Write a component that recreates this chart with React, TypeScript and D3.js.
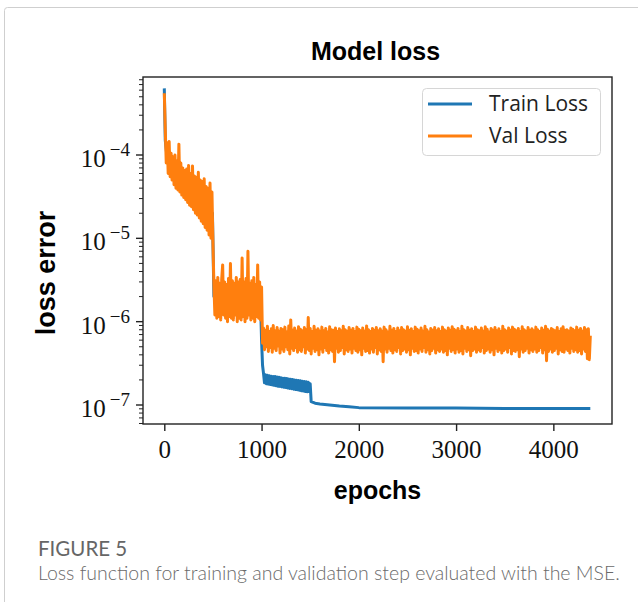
import React, { useEffect, useRef } from 'react';
import * as d3 from 'd3';

// validation loss, one value every 10 epochs (0 .. 4380)
const valStep = 10;
const valLoss = [
  // 0 .. 500
  5.5e-4, 2.0e-4, 8.0e-5, 1.4e-4, 6.0e-5, 1.45e-4, 5.5e-5, 1.05e-4, 5.0e-5, 9.5e-5,
  4.4e-5, 1.0e-4, 4.0e-5, 8.5e-5, 3.8e-5, 1.35e-4, 3.6e-5, 8.0e-5, 3.3e-5, 7.0e-5,
  3.1e-5, 6.5e-5, 2.9e-5, 6.8e-5, 2.7e-5, 7.5e-5, 2.5e-5, 6.0e-5, 2.4e-5, 7.4e-5,
  2.2e-5, 5.6e-5, 2.0e-5, 5.4e-5, 1.9e-5, 6.2e-5, 1.75e-5, 5.0e-5, 1.6e-5, 4.8e-5,
  1.5e-5, 5.2e-5, 1.35e-5, 4.2e-5, 1.25e-5, 4.0e-5, 1.1e-5, 4.6e-5, 1.0e-5, 3.6e-5,
  9.0e-6,
  // 510 .. 1000
  2.8e-6, 1.2e-6, 3.1e-6, 1.1e-6, 3.4e-6, 1.15e-6, 2.9e-6, 1.05e-6, 3.2e-6, 4.8e-6,
  1.2e-6, 3.0e-6, 1.1e-6, 2.8e-6, 1.0e-6, 3.3e-6, 1.15e-6, 5.0e-6, 1.1e-6, 3.1e-6,
  1.05e-6, 2.9e-6, 1.2e-6, 3.4e-6, 1.0e-6, 3.0e-6, 1.1e-6, 3.2e-6, 1.05e-6, 5.8e-6,
  1.15e-6, 3.0e-6, 1.0e-6, 3.3e-6, 1.1e-6, 7.0e-6, 1.2e-6, 2.9e-6, 1.05e-6, 3.1e-6,
  1.1e-6, 3.4e-6, 1.0e-6, 2.8e-6, 1.15e-6, 4.8e-6, 1.1e-6, 3.0e-6, 1.05e-6, 2.6e-6,
  // 1010 .. 4380
  5.5e-7, 8.4e-7, 4.6e-7, 7.9e-7, 5.0e-7, 8.8e-7, 4.4e-7, 7.6e-7, 4.9e-7, 8.2e-7,
  4.3e-7, 9.0e-7, 4.8e-7, 7.8e-7, 4.5e-7, 8.5e-7, 5.1e-7, 7.7e-7, 4.2e-7, 8.3e-7,
  4.7e-7, 8.0e-7, 4.4e-7, 8.6e-7, 5.0e-7, 7.5e-7, 4.6e-7, 8.9e-7, 4.1e-7, 1.05e-6,
  4.8e-7, 7.9e-7, 4.5e-7, 8.4e-7, 4.9e-7, 7.7e-7, 4.3e-7, 8.7e-7, 4.6e-7, 8.1e-7,
  4.4e-7, 7.8e-7, 5.0e-7, 8.5e-7, 4.2e-7, 8.0e-7, 4.7e-7, 1.12e-6, 4.5e-7, 8.3e-7,
  4.1e-7, 7.6e-7, 4.8e-7, 8.8e-7, 4.4e-7, 7.9e-7, 4.6e-7, 8.2e-7, 4.0e-7, 7.7e-7,
  4.7e-7, 8.6e-7, 4.3e-7, 7.8e-7, 4.9e-7, 8.3e-7, 4.5e-7, 7.5e-7, 4.2e-7, 8.7e-7,
  4.6e-7, 8.0e-7, 4.4e-7, 7.9e-7, 3.3e-7, 8.4e-7, 4.8e-7, 7.6e-7, 4.3e-7, 8.2e-7,
  4.5e-7, 7.8e-7, 4.9e-7, 8.8e-7, 4.1e-7, 8.0e-7, 4.6e-7, 7.7e-7, 4.4e-7, 8.5e-7,
  4.7e-7, 7.9e-7, 4.2e-7, 8.3e-7, 4.8e-7, 7.6e-7, 4.5e-7, 8.6e-7, 4.3e-7, 8.1e-7,
  4.6e-7, 7.8e-7, 4.0e-7, 8.4e-7, 4.8e-7, 7.7e-7, 4.4e-7, 8.9e-7, 4.5e-7, 8.0e-7,
  4.2e-7, 7.6e-7, 4.7e-7, 8.3e-7, 4.3e-7, 7.9e-7, 4.9e-7, 8.5e-7, 4.1e-7, 7.8e-7,
  4.6e-7, 8.2e-7, 4.4e-7, 7.7e-7, 3.3e-7, 8.6e-7, 4.7e-7, 8.0e-7, 4.3e-7, 7.5e-7,
  4.8e-7, 8.8e-7, 4.5e-7, 7.9e-7, 4.2e-7, 8.3e-7, 4.6e-7, 7.6e-7, 4.4e-7, 8.4e-7,
  4.9e-7, 7.8e-7, 4.1e-7, 8.5e-7, 4.5e-7, 8.0e-7, 4.7e-7, 7.7e-7, 4.3e-7, 8.7e-7,
  4.6e-7, 7.9e-7, 4.0e-7, 8.2e-7, 4.8e-7, 7.6e-7, 4.4e-7, 8.6e-7, 4.5e-7, 8.1e-7,
  4.2e-7, 7.8e-7, 4.7e-7, 8.4e-7, 4.4e-7, 7.7e-7, 4.9e-7, 8.8e-7, 4.3e-7, 8.0e-7,
  4.6e-7, 7.5e-7, 4.1e-7, 8.3e-7, 4.5e-7, 7.9e-7, 4.8e-7, 8.5e-7, 4.2e-7, 7.8e-7,
  4.6e-7, 8.2e-7, 4.4e-7, 7.6e-7, 4.7e-7, 8.6e-7, 4.3e-7, 8.0e-7, 4.5e-7, 7.7e-7,
  4.0e-7, 8.4e-7, 4.8e-7, 7.9e-7, 4.4e-7, 8.7e-7, 4.6e-7, 8.1e-7, 4.2e-7, 7.8e-7,
  4.7e-7, 8.3e-7, 4.3e-7, 7.6e-7, 4.5e-7, 8.8e-7, 4.1e-7, 8.0e-7, 4.8e-7, 7.7e-7,
  4.4e-7, 8.5e-7, 4.6e-7, 7.9e-7, 3.9e-7, 8.2e-7, 4.5e-7, 7.6e-7, 4.7e-7, 8.6e-7,
  4.3e-7, 8.0e-7, 4.6e-7, 7.8e-7, 4.4e-7, 8.4e-7, 4.9e-7, 7.7e-7, 4.2e-7, 8.7e-7,
  4.5e-7, 8.1e-7, 4.7e-7, 7.5e-7, 4.3e-7, 8.3e-7, 4.6e-7, 7.9e-7, 4.0e-7, 8.5e-7,
  4.8e-7, 7.8e-7, 4.4e-7, 8.2e-7, 4.6e-7, 7.6e-7, 4.2e-7, 8.8e-7, 4.5e-7, 8.0e-7,
  4.7e-7, 7.7e-7, 4.3e-7, 8.4e-7, 4.9e-7, 7.9e-7, 4.1e-7, 8.6e-7, 4.5e-7, 8.1e-7,
  4.4e-7, 7.8e-7, 4.6e-7, 8.3e-7, 3.8e-7, 7.6e-7, 4.7e-7, 8.7e-7, 4.3e-7, 8.0e-7,
  4.5e-7, 7.7e-7, 4.8e-7, 8.5e-7, 4.2e-7, 7.9e-7, 4.6e-7, 8.2e-7, 4.4e-7, 7.8e-7,
  4.7e-7, 8.6e-7, 4.3e-7, 8.0e-7, 4.5e-7, 7.6e-7, 4.9e-7, 8.4e-7, 4.2e-7, 7.9e-7,
  4.6e-7, 8.8e-7, 3.4e-7, 8.1e-7, 4.4e-7, 7.7e-7, 4.7e-7, 8.3e-7, 4.3e-7, 8.0e-7,
  4.5e-7, 7.8e-7, 4.8e-7, 8.5e-7, 4.1e-7, 7.6e-7, 4.6e-7, 8.2e-7, 4.4e-7, 8.7e-7,
  4.3e-7, 7.9e-7, 4.7e-7, 8.0e-7, 4.5e-7, 7.7e-7, 4.2e-7, 8.4e-7, 4.8e-7, 8.1e-7,
  4.4e-7, 7.8e-7, 4.6e-7, 8.6e-7, 4.3e-7, 7.9e-7, 4.5e-7, 8.3e-7, 4.1e-7, 7.7e-7,
  4.7e-7, 8.5e-7, 4.4e-7, 8.0e-7, 3.6e-7, 8.2e-7, 3.5e-7, 6.8e-7,
];

// training loss
const trainEpochs = [
  0, 10, 30, 100, 200, 300, 400, 495, 510, 600, 800, 990, 1000, 1010, 1020,
  1030, 1040, 1050, 1060, 1070, 1080, 1090, 1100, 1110, 1120, 1130, 1140, 1150, 1160,
  1170, 1180, 1190, 1200, 1210, 1220, 1230, 1240, 1250, 1260, 1270, 1280, 1290, 1300,
  1310, 1320, 1330, 1340, 1350, 1360, 1370, 1380, 1390, 1400, 1410, 1420, 1430, 1440,
  1450, 1460, 1470, 1480, 1490, 1500,
  1510, 1550, 1600, 1700, 1800, 1900, 2000, 2500, 3000, 3500, 4000, 4380,
];
const trainLoss = [
  6.3e-4, 1.5e-4, 9.0e-5, 6.5e-5, 4.5e-5, 3.5e-5, 2.5e-5, 2.0e-5, 2.0e-6, 1.8e-6,
  1.7e-6, 1.6e-6, 6.0e-7, 3.0e-7, 2.4e-7,
  1.85e-7, 2.3e-7, 1.8e-7, 2.28e-7, 1.78e-7, 2.25e-7, 1.76e-7, 2.22e-7, 1.74e-7, 2.2e-7,
  1.72e-7, 2.2e-7, 1.7e-7, 2.17e-7, 1.68e-7, 2.15e-7, 1.67e-7, 2.12e-7, 1.65e-7, 2.1e-7,
  1.63e-7, 2.1e-7, 1.62e-7, 2.08e-7, 1.6e-7, 2.05e-7, 1.58e-7, 2.04e-7, 1.57e-7, 2.02e-7,
  1.55e-7, 2.0e-7, 1.53e-7, 1.98e-7, 1.52e-7, 1.97e-7, 1.5e-7, 1.95e-7, 1.48e-7, 1.93e-7,
  1.47e-7, 1.92e-7, 1.45e-7, 1.9e-7, 1.44e-7, 1.88e-7, 1.45e-7, 1.8e-7,
  1.1e-7, 1.05e-7, 1.03e-7, 1.0e-7, 9.7e-8, 9.5e-8, 9.3e-8, 9.2e-8, 9.2e-8,
  9.1e-8, 9.1e-8, 9.1e-8,
];

const xTicks = [0, 1000, 2000, 3000, 4000];
const yTickExps = [-7, -6, -5, -4];
const seriesNames = ['Train Loss', 'Val Loss'];
const seriesColors = ['#1f77b4', '#ff7f0e'];

const App = () => {
  const width = 638,
    height = 602,
    plot = { left: 143, top: 77, right: 612, bottom: 424 };

  const svgRef = useRef<SVGSVGElement>(null);

  const x = d3.scaleLinear().domain([-219, 4603]).range([plot.left, plot.right]);
  const y = d3.scaleLog()
    .domain([Math.pow(10, -7.228), Math.pow(10, -3.064)])
    .range([plot.bottom, plot.top]);

  useEffect(() => {
    const svg = d3.select(svgRef.current);
    svg.selectAll('*').remove();

    // card outline
    svg.append('rect')
      .attr('x', 4.5).attr('y', 7.5)
      .attr('width', 700).attr('height', 700)
      .attr('rx', 3)
      .attr('fill', 'white')
      .attr('stroke', '#cfcfcf');

    svg.append('clipPath').attr('id', 'plot-clip')
      .append('rect')
      .attr('x', plot.left).attr('y', plot.top)
      .attr('width', plot.right - plot.left).attr('height', plot.bottom - plot.top);

    const line = d3.line<[number, number]>()
      .x(d => x(d[0]))
      .y(d => y(d[1]));

    const trainData: [number, number][] = trainEpochs.map((e, i) => [e, trainLoss[i]]);
    const valData: [number, number][] = valLoss.map((v, i) => [i * valStep, v]);

    const lines = svg.append('g').attr('clip-path', 'url(#plot-clip)');
    [trainData, valData].forEach((data, i) => {
      lines.append('path')
        .datum(data)
        .attr('fill', 'none')
        .attr('stroke', seriesColors[i])
        .attr('stroke-width', 3)
        .attr('stroke-linejoin', 'round')
        .attr('d', line);
    });

    // frame
    svg.append('rect')
      .attr('x', plot.left).attr('y', plot.top)
      .attr('width', plot.right - plot.left).attr('height', plot.bottom - plot.top)
      .attr('fill', 'none')
      .attr('stroke', '#222')
      .attr('stroke-width', 1.4);

    // x axis
    svg.append('g')
      .attr('transform', `translate(0,${plot.bottom})`)
      .call(d3.axisBottom(x).tickValues(xTicks).tickSize(7).tickPadding(9).tickFormat(d3.format('d')))
      .call(g => g.select('.domain').remove())
      .call(g => g.selectAll('line').attr('stroke', '#222').attr('stroke-width', 1.4))
      .call(g => g.selectAll('text')
        .attr('font-family', '"Liberation Serif", serif')
        .attr('font-size', 25)
        .attr('fill', '#111'));

    // y minor ticks
    const minor: number[] = [];
    for (let e = -8; e <= -3; e++) {
      for (let m = 2; m <= 9; m++) {
        const v = m * Math.pow(10, e);
        if (v > y.domain()[0] && v < y.domain()[1]) minor.push(v);
      }
    }
    svg.append('g')
      .selectAll('line')
      .data(minor)
      .join('line')
      .attr('x1', plot.left - 4).attr('x2', plot.left)
      .attr('y1', d => y(d)).attr('y2', d => y(d))
      .attr('stroke', '#222').attr('stroke-width', 1);

    const yMajor = svg.append('g');
    yMajor.selectAll('line')
      .data(yTickExps)
      .join('line')
      .attr('x1', plot.left - 7).attr('x2', plot.left)
      .attr('y1', d => y(Math.pow(10, d))).attr('y2', d => y(Math.pow(10, d)))
      .attr('stroke', '#222').attr('stroke-width', 1.4);

    const yLabels = yMajor.selectAll('text')
      .data(yTickExps)
      .join('text')
      .attr('x', plot.left - 13)
      .attr('y', d => y(Math.pow(10, d)) + 12)
      .attr('text-anchor', 'end')
      .attr('font-family', '"Liberation Serif", serif')
      .attr('fill', '#111');
    yLabels.append('tspan').attr('font-size', 25).text('10');
    yLabels.append('tspan')
      .attr('font-size', 19)
      .attr('dx', 4)
      .attr('dy', -11)
      .text(d => `\u2212${-d}`);

    // titles
    const boldText = (sel: d3.Selection<SVGTextElement, unknown, null, undefined>, size: number) => sel
      .attr('text-anchor', 'middle')
      .attr('font-family', '"Liberation Sans", Arial, sans-serif')
      .attr('font-weight', 'bold')
      .attr('font-size', size)
      .attr('fill', '#000');

    svg.append('text')
      .attr('x', (plot.left + plot.right) / 2 - 2)
      .attr('y', 60)
      .call(boldText, 25)
      .text('Model loss');

    svg.append('text')
      .attr('x', (plot.left + plot.right) / 2)
      .attr('y', 499)
      .call(boldText, 25)
      .text('epochs');

    svg.append('text')
      .attr('transform', `translate(55,273) rotate(-90)`)
      .call(boldText, 27)
      .text('loss error');

    // legend
    const legend = svg.append('g');
    legend.append('rect')
      .attr('x', 422.5).attr('y', 88.5)
      .attr('width', 178).attr('height', 67)
      .attr('rx', 4)
      .attr('fill', 'white').attr('fill-opacity', 0.85)
      .attr('stroke', '#d6d6d6');
    seriesNames.forEach((name, i) => {
      const ly = 104 + i * 32;
      legend.append('line')
        .attr('x1', 428).attr('x2', 472)
        .attr('y1', ly).attr('y2', ly)
        .attr('stroke', seriesColors[i]).attr('stroke-width', 3);
      legend.append('text')
        .attr('x', 489).attr('y', ly + 7)
        .attr('font-family', '"Open Sans", sans-serif')
        .attr('font-size', 21)
        .attr('fill', '#222')
        .text(name);
    });

    // caption
    svg.append('text')
      .attr('x', 38).attr('y', 556)
      .attr('font-family', 'Lato, sans-serif')
      .attr('font-size', 20.5)
      .attr('fill', '#666')
      .text('FIGURE 5');
    svg.append('text')
      .attr('x', 38).attr('y', 580)
      .attr('font-family', 'Lato, sans-serif')
      .attr('font-weight', 300)
      .attr('font-size', 19.5)
      .attr('fill', '#6a6a6a')
      .text('Loss function for training and validation step evaluated with the MSE.');
  }, []);

  return (
    <svg ref={svgRef} width={width} height={height}
      style={{ position: 'absolute', left: 0, top: 0 }}></svg>
  );
};

export default App;
